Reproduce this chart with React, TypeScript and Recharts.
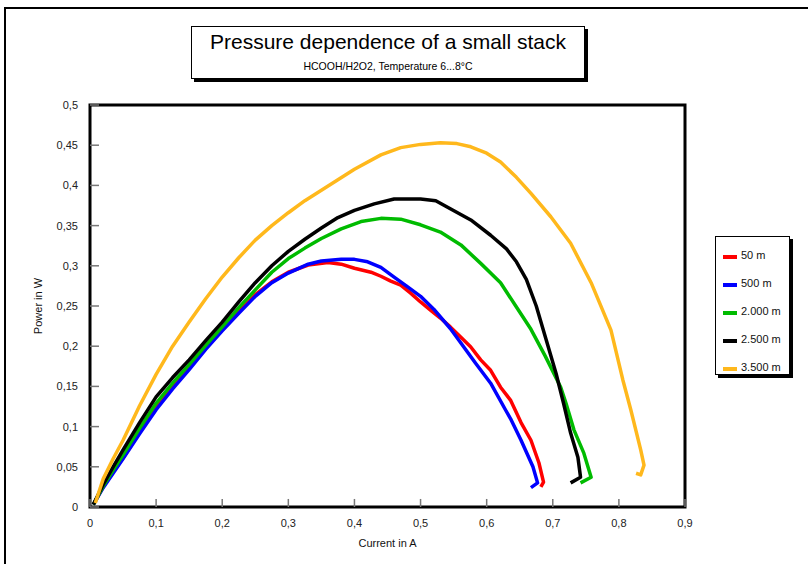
import React from 'react';
import { LineChart, Line, XAxis, YAxis, ReferenceArea, ReferenceLine, Label } from 'recharts';

// pressure levels (legend order)
const pressures = ['50 m', '500 m', '2.000 m', '2.500 m', '3.500 m'];
const colors = ['#ff0000', '#0000ff', '#00bb00', '#000000', '#ffb81c'];

// current in A / power in W
const current50 = [0.005, 0.02, 0.035, 0.05, 0.075, 0.1, 0.125, 0.15, 0.175, 0.2, 0.225, 0.25, 0.275, 0.3, 0.33, 0.36, 0.38, 0.4, 0.425, 0.44, 0.455, 0.47, 0.485, 0.5, 0.515, 0.53, 0.545, 0.561, 0.576, 0.591, 0.606, 0.621, 0.636, 0.652, 0.667, 0.679, 0.686, 0.682];
const power50 = [0.003, 0.025, 0.044, 0.061, 0.093, 0.123, 0.149, 0.173, 0.198, 0.221, 0.243, 0.264, 0.28, 0.292, 0.301, 0.304, 0.302, 0.297, 0.292, 0.287, 0.281, 0.276, 0.266, 0.255, 0.245, 0.235, 0.224, 0.211, 0.199, 0.183, 0.17, 0.149, 0.133, 0.105, 0.083, 0.055, 0.031, 0.025];

const current500 = [0.005, 0.02, 0.035, 0.05, 0.075, 0.1, 0.125, 0.15, 0.175, 0.2, 0.225, 0.25, 0.275, 0.3, 0.33, 0.35, 0.38, 0.4, 0.42, 0.44, 0.46, 0.48, 0.5, 0.52, 0.545, 0.561, 0.583, 0.606, 0.629, 0.636, 0.652, 0.67, 0.677, 0.667];
const power500 = [0.003, 0.024, 0.042, 0.06, 0.091, 0.121, 0.147, 0.171, 0.196, 0.219, 0.241, 0.262, 0.279, 0.291, 0.302, 0.306, 0.308, 0.308, 0.305, 0.298, 0.286, 0.274, 0.262, 0.246, 0.222, 0.204, 0.179, 0.154, 0.12, 0.11, 0.083, 0.05, 0.03, 0.024];

const current2000 = [0.005, 0.02, 0.035, 0.05, 0.075, 0.1, 0.125, 0.15, 0.175, 0.2, 0.225, 0.25, 0.275, 0.3, 0.325, 0.35, 0.38, 0.41, 0.44, 0.47, 0.5, 0.53, 0.561, 0.591, 0.621, 0.644, 0.667, 0.689, 0.712, 0.72, 0.732, 0.747, 0.758, 0.742];
const power2000 = [0.003, 0.026, 0.046, 0.065, 0.098, 0.129, 0.154, 0.177, 0.201, 0.224, 0.248, 0.27, 0.292, 0.309, 0.322, 0.334, 0.346, 0.355, 0.359, 0.358, 0.351, 0.342, 0.326, 0.303, 0.279, 0.25, 0.221, 0.187, 0.149, 0.129, 0.096, 0.067, 0.037, 0.03];

const current2500 = [0.005, 0.02, 0.035, 0.05, 0.075, 0.1, 0.125, 0.15, 0.175, 0.2, 0.225, 0.25, 0.275, 0.3, 0.325, 0.35, 0.375, 0.4, 0.43, 0.46, 0.5, 0.523, 0.545, 0.576, 0.606, 0.63, 0.645, 0.66, 0.675, 0.69, 0.705, 0.716, 0.727, 0.738, 0.742, 0.727];
const power2500 = [0.003, 0.028, 0.05, 0.071, 0.105, 0.137, 0.161, 0.183, 0.207, 0.23, 0.255, 0.279, 0.3, 0.318, 0.333, 0.347, 0.36, 0.369, 0.377, 0.383, 0.383, 0.381, 0.371, 0.357, 0.338, 0.321, 0.305, 0.283, 0.25, 0.208, 0.166, 0.13, 0.092, 0.062, 0.037, 0.03];

const current3500 = [0.008, 0.02, 0.035, 0.05, 0.075, 0.1, 0.125, 0.15, 0.175, 0.2, 0.225, 0.25, 0.275, 0.3, 0.325, 0.35, 0.375, 0.4, 0.44, 0.47, 0.5, 0.53, 0.555, 0.576, 0.6, 0.621, 0.645, 0.667, 0.697, 0.727, 0.758, 0.788, 0.806, 0.818, 0.833, 0.838, 0.833, 0.826];
const power3500 = [0.005, 0.035, 0.06, 0.083, 0.126, 0.165, 0.2, 0.23, 0.259, 0.286, 0.31, 0.332, 0.35, 0.366, 0.381, 0.394, 0.407, 0.42, 0.438, 0.447, 0.451, 0.453, 0.452, 0.448, 0.44, 0.429, 0.41, 0.39, 0.361, 0.328, 0.279, 0.22, 0.158, 0.121, 0.071, 0.052, 0.04, 0.042];

const xTicks = [0, 0.1, 0.2, 0.3, 0.4, 0.5, 0.6, 0.7, 0.8, 0.9];
const yTicks = [0, 0.05, 0.1, 0.15, 0.2, 0.25, 0.3, 0.35, 0.4, 0.45, 0.5];

const toPoints = (cur: number[], pow: number[]) => cur.map((i, k) => ({ i, p: pow[k] }));

const series = [
  toPoints(current50, power50),
  toPoints(current500, power500),
  toPoints(current2000, power2000),
  toPoints(current2500, power2500),
  toPoints(current3500, power3500),
];

const font = '"Liberation Sans", Arial, sans-serif';
const comma = (v: number) => String(v).replace('.', ',');

const LegendBox = () => (
  <div
    style={{
      position: 'absolute',
      left: 715,
      top: 236,
      width: 75,
      height: 139,
      border: '1.5px solid #000',
      boxShadow: '3px 3px 0 #000',
      background: '#fff',
      boxSizing: 'border-box',
      paddingTop: 4,
    }}
  >
    {pressures.map((name, k) => (
      <div key={name} style={{ display: 'flex', alignItems: 'center', height: 28, marginLeft: 7 }}>
        <span style={{ display: 'inline-block', width: 14, height: 4, background: colors[k], marginTop: 4 }} />
        <span style={{ marginLeft: 4, fontSize: 11, color: '#111' }}>{name}</span>
      </div>
    ))}
  </div>
);

export default function App() {
  return (
    <div style={{ position: 'fixed', left: 0, top: 0, width: 808, height: 564, background: '#fff', overflow: 'hidden', fontFamily: font }}>
      <div style={{ position: 'absolute', left: 4, top: 7, width: 2, height: 557, background: '#000' }} />
      <div style={{ position: 'absolute', left: 4, top: 7, width: 804, height: 2, background: '#000' }} />

      <div
        style={{
          position: 'absolute',
          left: 191,
          top: 26,
          width: 394,
          height: 53,
          border: '1.5px solid #000',
          boxShadow: '3px 3px 0 #000',
          background: '#fff',
          boxSizing: 'border-box',
          textAlign: 'center',
        }}
      >
        <div style={{ fontSize: 21, marginTop: 3, lineHeight: '24px', color: '#000' }}>Pressure dependence of a small stack</div>
        <div style={{ fontSize: 10.5, marginTop: 6, lineHeight: '12px', color: '#000' }}>HCOOH/H2O2, Temperature 6...8°C</div>
      </div>

      <div style={{ position: 'absolute', left: 0, top: 0 }}>
        <LineChart width={808} height={564} margin={{ top: 105, right: 123, left: 30, bottom: 0 }}>
          <XAxis
            type="number"
            dataKey="i"
            domain={[0, 0.9]}
            ticks={xTicks}
            tickFormatter={comma}
            axisLine={false}
            tickLine={false}
            tickSize={6}
            tickMargin={6}
            height={57}
            tick={{ fontSize: 11, fill: '#222', fontFamily: font }}
          >
            <Label value="Current in A" position="insideBottom" offset={17} style={{ fontSize: 11, fill: '#111', fontFamily: font }} />
          </XAxis>
          <YAxis
            type="number"
            domain={[0, 0.5]}
            ticks={yTicks}
            tickFormatter={comma}
            axisLine={false}
            tickLine={false}
            tickSize={6}
            tickMargin={6}
            width={60}
            tick={{ fontSize: 11, fill: '#222', fontFamily: font }}
          >
            <Label value="Power in W" angle={-90} position="insideLeft" offset={8} style={{ fontSize: 11, fill: '#111', fontFamily: font, textAnchor: 'middle' }} />
          </YAxis>

          {yTicks.map((v) => (
            <ReferenceLine key={'y' + v} segment={[{ x: 0, y: v }, { x: 0.0136, y: v }]} stroke="#777" strokeWidth={1.5} />
          ))}
          {xTicks.map((v) => (
            <ReferenceLine key={'x' + v} segment={[{ x: v, y: 0 }, { x: v, y: 0.01 }]} stroke="#777" strokeWidth={1.5} />
          ))}
          <ReferenceArea x1={0} x2={0.9} y1={0} y2={0.5} fill="none" stroke="#000" strokeWidth={3} ifOverflow="visible" />

          {series.map((data, k) => (
            <Line
              key={pressures[k]}
              data={data}
              dataKey="p"
              name={pressures[k]}
              stroke={colors[k]}
              strokeWidth={3.5}
              strokeLinejoin="round"
              dot={false}
              type="linear"
              isAnimationActive={false}
            />
          ))}
        </LineChart>
      </div>

      <LegendBox />
    </div>
  );
}
